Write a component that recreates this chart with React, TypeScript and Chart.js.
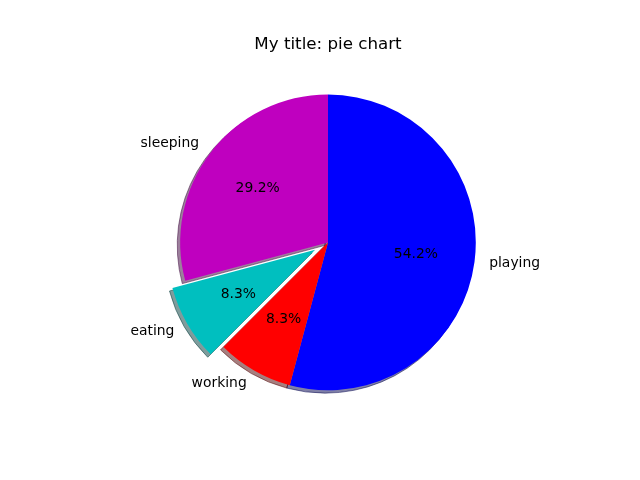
import { useEffect, useRef } from 'react';
import { Chart, registerables } from 'chart.js';

Chart.register(...registerables);

const categories = ['sleeping', 'eating', 'working', 'playing'];
const values = [7, 2, 2, 13];
const colors = ['#bf00bf', '#00bfbf', '#ff0000', '#0000ff'];
const explode = [0, 0.1, 0, 0];
const chartTitle = 'My title: pie chart';

const FONT = '"DejaVu Sans", "Liberation Sans", sans-serif';

function hexToRgb(h: string) {
  const n = parseInt(h.slice(1), 16);
  return [(n >> 16) & 255, (n >> 8) & 255, n & 255];
}

export default function App() {
  const ref = useRef<HTMLCanvasElement>(null);

  useEffect(() => {
    document.body.style.margin = '0';
    const canvas = ref.current;
    if (!canvas) return;
    // Chart.js draws clockwise; matplotlib goes counter-clockwise from the top.
    const order = [3, 2, 1, 0];
    const labels = order.map((i) => categories[i]);
    const data = order.map((i) => values[i]);
    const bg = order.map((i) => colors[i]);
    const ex = order.map((i) => explode[i]);
    const total = values.reduce((a, b) => a + b, 0);

    const plugin = {
      id: 'mplPie',
      beforeDatasetsDraw(chart: any) {
        const ctx = chart.ctx as CanvasRenderingContext2D;
        const meta = chart.getDatasetMeta(0);
        const els = meta.data as any[];
        const geo = els.map((el: any, k: number) => {
          const p = el.getProps(['x', 'y', 'startAngle', 'endAngle', 'outerRadius'], true);
          const mid = (p.startAngle + p.endAngle) / 2;
          const e = ex[k] * p.outerRadius;
          return { ...p, mid, dx: Math.cos(mid) * e, dy: Math.sin(mid) * e };
        });
        // shadows
        geo.forEach((g: any, k: number) => {
          const sh = 0.02 * g.outerRadius;
          const [r, gg, b] = hexToRgb(bg[k]);
          const c = `rgba(${0.3 * r},${0.3 * gg},${0.3 * b},0.5)`;
          ctx.save();
          ctx.translate(g.dx - sh, g.dy + sh);
          ctx.beginPath();
          ctx.moveTo(g.x, g.y);
          ctx.arc(g.x, g.y, g.outerRadius, g.startAngle, g.endAngle);
          ctx.closePath();
          ctx.fillStyle = c;
          ctx.fill();
          ctx.lineWidth = 1;
          ctx.strokeStyle = c;
          ctx.stroke();
          ctx.restore();
        });
        // wedges
        els.forEach((el: any, k: number) => {
          ctx.save();
          ctx.translate(geo[k].dx, geo[k].dy);
          el.draw(ctx, chart.chartArea);
          ctx.restore();
        });
        // texts
        ctx.save();
        ctx.fillStyle = '#000';
        ctx.textBaseline = 'middle';
        ctx.font = `13.9px ${FONT}`;
        geo.forEach((g: any, k: number) => {
          const cx = g.x + g.dx;
          const cy = g.y + g.dy;
          const R = g.outerRadius;
          const lx = cx + Math.cos(g.mid) * 1.1 * R;
          const ly = cy + Math.sin(g.mid) * 1.1 * R;
          ctx.textAlign = Math.cos(g.mid) < 0 ? 'right' : 'left';
          ctx.fillText(labels[k], lx, ly);
          const px = cx + Math.cos(g.mid) * 0.6 * R;
          const py = cy + Math.sin(g.mid) * 0.6 * R;
          ctx.textAlign = 'center';
          ctx.fillText(((data[k] / total) * 100).toFixed(1) + '%', px, py);
        });
        ctx.restore();
        return false;
      },
      afterDraw(chart: any) {
        const ctx = chart.ctx as CanvasRenderingContext2D;
        ctx.save();
        ctx.fillStyle = '#000';
        ctx.font = `16.7px ${FONT}`;
        ctx.textAlign = 'center';
        ctx.textBaseline = 'alphabetic';
        ctx.fillText(chartTitle, 328, 49.3);
        ctx.restore();
      },
    };

    const chart = new Chart(canvas, {
      type: 'pie',
      data: {
        labels,
        datasets: [
          {
            data,
            backgroundColor: bg,
            borderWidth: 0,
          },
        ],
      },
      options: {
        animation: false,
        responsive: false,
        devicePixelRatio: 1,
        events: [],
        radius: 147.8,
        rotation: 0,
        layout: { padding: { left: 16, right: 0, top: 4.8, bottom: 0 } },
        plugins: {
          legend: { display: false },
          title: { display: false },
          tooltip: { enabled: false },
        },
      } as any,
      plugins: [plugin as any],
    });
    return () => chart.destroy();
  }, []);

  return (
    <div style={{ width: 640, height: 480, background: '#fff' }}>
      <canvas ref={ref} width={640} height={480} style={{ display: 'block' }} />
    </div>
  );
}
